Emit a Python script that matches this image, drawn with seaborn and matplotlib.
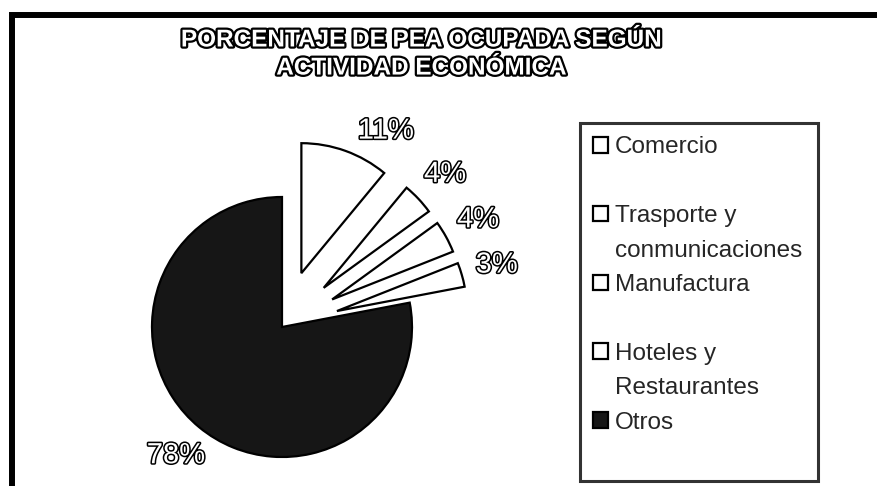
import matplotlib
matplotlib.use("Agg")
import matplotlib.pyplot as plt
import matplotlib.patheffects as pe
from matplotlib.patches import Patch, Rectangle
import seaborn as sns

# data
categorias = ["Comercio", "Trasporte y\nconmunicaciones", "Manufactura",
              "Hoteles y\nRestaurantes", "Otros"]
porcentajes = [11, 4, 4, 3, 78]
separacion = [0.44, 0.44, 0.44, 0.44, 0.0]
colores = ["white", "white", "white", "white", "#161616"]
titulo = "PORCENTAJE DE PEA OCUPADA SEGÚN\nACTIVIDAD ECONÓMICA"

sns.set_theme(style="white")
plt.rcParams["font.family"] = ["Liberation Sans", "DejaVu Sans"]

W, H = 878, 486
fig = plt.figure(figsize=(W / 100, H / 100), dpi=100)
ax = fig.add_axes([0, 0, 1, 1])

wedges, textos, pcts = ax.pie(
    porcentajes, explode=separacion, colors=colores, startangle=90,
    counterclock=False, radius=1.0, autopct="%1.0f%%", pctdistance=1.28,
    wedgeprops=dict(edgecolor="black", linewidth=1.6),
)

outline = [pe.Stroke(linewidth=2.2, foreground="black"), pe.Normal()]
for t in pcts:
    t.set_fontsize(21)
    t.set_color("white")
    t.set_path_effects(outline)
pcts[0].set_ha("left")
pcts[0].set_va("top")

# 1 data unit = 130 px, pie centre at pixel (282, 327)
esc, cx, cy = 130.0, 282, 327
ax.set_xlim(-cx / esc, (W - cx) / esc)
ax.set_ylim((cy - H) / esc, cy / esc)
ax.set_aspect("auto")
ax.axis("off")

fig.text(421 / W, 1 - 54 / H, titulo, ha="center", va="center",
         fontsize=17.5, fontweight="bold", color="white", linespacing=1.28,
         path_effects=[pe.Stroke(linewidth=3.2, foreground="black"), pe.Normal()])

# legend: one row per text line, as in the original
vacio = Patch(facecolor="none", edgecolor="none")
handles, labels = [], []
for w, lab in zip(wedges, categorias):
    lineas = lab.split("\n")
    handles.append(w)
    labels.append(lineas[0])
    handles.append(vacio)
    labels.append(lineas[1] if len(lineas) > 1 else "")

leg = fig.legend(handles, labels, loc="upper left",
                 bbox_to_anchor=(580 / W, (H - 476) / H, 238 / W, 353 / H),
                 mode="expand", borderaxespad=0, fontsize=17.5, frameon=True,
                 fancybox=False, edgecolor="black", handlelength=0.6,
                 handleheight=0.6, handletextpad=0.3, labelspacing=0.51,
                 borderpad=0.55)
leg.get_frame().set_linewidth(2.2)

# outer frame (cut at right and bottom in the original)
fig.add_artist(Rectangle((12 / W, -0.05), 1.0, 1 - 15 / H + 0.05,
                         transform=fig.transFigure, fill=False,
                         edgecolor="black", linewidth=4.3, clip_on=False))

fig.savefig("out.png", dpi=100)
